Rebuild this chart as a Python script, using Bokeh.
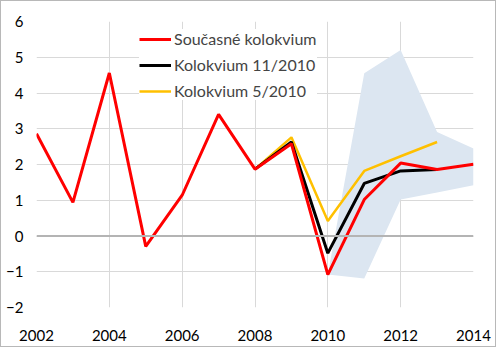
from bokeh.plotting import figure
from bokeh.models import Legend, LegendItem, Span, FixedTicker
from bokeh.embed import file_html
from bokeh.resources import INLINE

years = [2002, 2003, 2004, 2005, 2006, 2007, 2008, 2009, 2010, 2011, 2012, 2013, 2014]
soucasne = [2.86, 0.94, 4.56, -0.29, 1.14, 3.40, 1.87, 2.58, -1.08, 1.02, 2.04, 1.86, 2.01]

years_11 = [2008, 2009, 2010, 2011, 2012, 2013]
kol_11_2010 = [1.87, 2.63, -0.48, 1.47, 1.82, 1.86]

years_5 = [2008, 2009, 2010, 2011, 2012, 2013]
kol_5_2010 = [1.87, 2.76, 0.42, 1.82, 2.23, 2.63]

band_years = [2010, 2011, 2012, 2013, 2014]
band_upper = [-1.08, 4.55, 5.20, 2.91, 2.45]
band_lower = [-1.08, -1.19, 1.02, 1.22, 1.42]

x_ticks = [2002, 2004, 2006, 2008, 2010, 2012, 2014]
y_ticks = [-2, -1, 0, 1, 2, 3, 4, 5, 6]

FONT = "Lato"
FS = "15px"

p = figure(width=496, height=347, output_backend="svg", toolbar_location=None,
           x_range=(2002, 2014), y_range=(-2, 6),
           min_border_left=35, min_border_right=24, min_border_top=20, min_border_bottom=41)
p.styles = {"border": "1px solid #b8b8b8"}
p.outline_line_color = None
p.background_fill_color = "white"
p.border_fill_color = "white"

p.xaxis.ticker = FixedTicker(ticks=x_ticks)
p.yaxis.ticker = FixedTicker(ticks=y_ticks)
for ax in (p.xaxis[0], p.yaxis[0]):
    ax.axis_line_color = None
    ax.major_tick_line_color = None
    ax.minor_tick_line_color = None
    ax.major_tick_out = 0
    ax.major_tick_in = 0
    ax.minor_tick_out = 0
    ax.minor_tick_in = 0
    ax.major_label_text_font = FONT
    ax.major_label_text_font_size = FS
    ax.major_label_text_color = "black"
p.yaxis.major_label_standoff = 13
p.xaxis.major_label_standoff = 22

p.xgrid.grid_line_color = "#d9d9d9"
p.ygrid.grid_line_color = "#d9d9d9"
p.xgrid.grid_line_width = 1
p.ygrid.grid_line_width = 1

zero = Span(location=0, dimension="width", line_color="#b4b4b4", line_width=2)
p.add_layout(zero)

p.varea(x=band_years, y1=band_lower, y2=band_upper, fill_color="#dce6f1", fill_alpha=1.0)

r_y = p.line(years_5, kol_5_2010, line_color="#ffc000", line_width=2.5)
r_b = p.line(years_11, kol_11_2010, line_color="black", line_width=3)
r_r = p.line(years, soucasne, line_color="#ff0000", line_width=3)

legend = Legend(items=[
    LegendItem(label="Současné kolokvium", renderers=[r_r]),
    LegendItem(label="Kolokvium 11/2010", renderers=[r_b]),
    LegendItem(label="Kolokvium 5/2010", renderers=[r_y]),
], location=(103, 207))
legend.background_fill_color = "white"
legend.background_fill_alpha = 1.0
legend.border_line_color = None
legend.label_text_font = FONT
legend.label_text_font_size = "16px"
legend.glyph_width = 32
legend.glyph_height = 16
legend.label_height = 16
legend.spacing = 7
legend.padding = 4
legend.margin = 0
legend.label_standoff = 3
p.add_layout(legend)

open("out.html", "w").write(file_html(p, INLINE))
